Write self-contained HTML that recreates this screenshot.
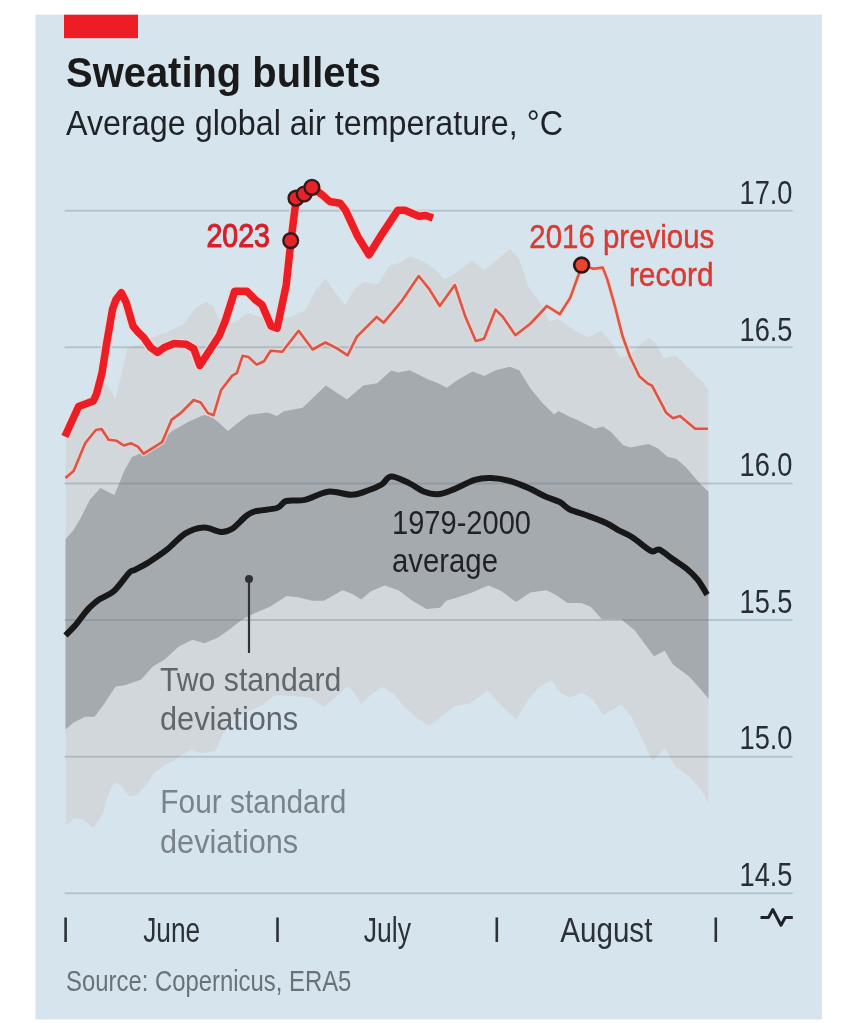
<!DOCTYPE html>
<html><head><meta charset="utf-8">
<style>
html,body{margin:0;padding:0;background:#fff;}
body{width:858px;height:1023px;overflow:hidden;position:relative;font-family:"Liberation Sans",sans-serif;}
svg{position:absolute;left:0;top:0;filter:blur(0.45px);}
</style></head><body>
<svg width="858" height="1023" viewBox="0 0 858 1023" font-family="Liberation Sans, sans-serif">
<rect x="35.5" y="14.7" width="786.5" height="1004.8" fill="#d6e5ed"/>
<rect x="64" y="14.7" width="74" height="23.5" fill="#ec1d24"/>
<polygon points="65.5,433.0 78.6,404.0 93.3,398.0 100.0,387.0 106.0,383.0 115.5,399.0 126.4,353.0 127.5,347.5 140.0,345.0 150.0,338.0 167.0,332.0 183.2,324.5 195.3,307.9 205.9,301.8 213.5,306.4 218.0,318.5 226.0,322.0 234.7,323.0 246.8,312.4 255.9,315.5 271.0,320.0 291.6,317.0 305.6,309.9 315.0,291.2 325.4,278.4 335.9,293.5 345.2,305.2 354.6,288.9 363.9,281.9 377.9,284.2 389.5,265.6 398.8,263.2 410.5,256.2 424.5,262.1 436.1,270.2 444.3,279.3 453.6,274.6 472.3,260.6 484.0,270.0 493.3,263.0 509.6,249.0 518.9,258.3 528.2,286.2 539.9,302.6 549.2,321.2 558.5,318.9 574.9,330.5 588.8,337.5 601.0,330.4 613.0,345.0 620.5,358.0 629.8,354.5 648.5,337.7 656.0,343.3 663.4,358.2 674.6,355.4 681.2,360.0 687.7,367.5 692.9,371.7 697.0,376.9 702.2,381.0 708.5,390.3 708.5,802.7 700.4,789.0 689.4,776.7 675.8,767.1 664.8,747.9 652.5,761.6 632.0,717.8 621.0,704.2 614.1,709.2 603.3,715.1 593.2,699.9 588.2,696.0 581.5,692.9 569.9,697.5 560.5,692.9 551.2,680.0 539.6,687.0 527.9,699.9 516.2,719.7 500.0,704.5 488.3,690.5 469.6,703.4 455.6,705.7 441.7,716.2 430.0,725.5 426.5,724.3 417.2,718.5 403.2,705.7 393.8,694.0 382.2,687.0 370.5,695.2 361.2,704.5 354.2,692.9 347.2,685.9 337.9,695.2 323.9,706.9 310.0,697.5 290.0,696.0 275.0,695.2 263.3,704.5 255.0,708.6 234.5,717.9 222.8,734.2 215.8,750.5 205.0,752.8 199.5,752.9 191.9,748.9 182.1,754.8 174.3,760.6 164.5,765.5 154.7,772.4 146.9,784.1 137.1,794.9 129.3,796.8 121.5,786.0 114.7,782.1 107.8,795.8 102.0,815.4 93.1,828.1 82.4,819.3 74.6,818.3 65.5,825.2" fill="#d2d7dc"/>
<polygon points="65.5,539.3 73.6,530.0 80.6,518.3 90.0,499.6 100.5,488.0 114.4,495.0 125.0,469.3 132.0,457.0 153.0,447.8 171.5,431.5 188.0,422.0 204.0,415.0 209.3,416.0 216.3,420.6 228.0,431.1 241.5,420.0 249.0,414.8 267.6,412.4 276.9,416.0 283.9,411.3 302.6,407.8 325.9,385.6 346.9,399.6 363.2,385.6 377.2,383.3 391.1,370.5 398.0,372.6 409.6,370.3 428.3,379.6 437.6,383.1 446.9,387.8 458.3,379.5 472.6,371.5 484.2,376.1 495.9,370.3 509.9,366.8 519.2,370.3 530.8,389.0 542.5,403.0 554.1,414.6 558.8,411.0 570.0,417.0 576.3,419.4 595.0,428.8 603.1,426.4 611.3,432.3 623.0,445.0 630.0,447.4 648.6,444.0 658.0,448.6 667.2,456.7 676.5,459.0 685.9,467.2 699.9,483.5 708.5,491.7 708.5,698.7 700.4,689.1 689.4,676.8 673.0,664.5 664.8,650.8 653.9,656.3 634.7,630.3 621.0,619.3 601.9,619.3 591.0,607.0 581.5,603.1 567.5,603.1 555.9,595.0 546.6,590.3 530.2,592.6 516.2,602.0 500.0,590.3 488.3,585.6 472.0,592.6 458.0,597.3 446.3,600.8 440.0,607.8 426.5,609.0 412.5,600.8 398.5,590.3 384.5,585.6 370.5,591.5 361.2,599.6 351.9,593.8 342.6,590.3 323.9,600.8 312.3,600.8 298.3,597.3 286.6,596.1 270.3,606.6 254.0,613.6 241.5,620.0 229.8,629.3 218.2,637.5 204.2,643.3 192.5,639.8 178.5,646.8 164.6,659.6 152.9,666.6 141.2,679.4 124.9,685.3 115.6,686.4 104.0,703.9 94.6,716.7 85.3,716.7 73.6,722.6 65.5,729.6" fill="#a5aaaf"/>
<g stroke="#5f7886" stroke-opacity="0.3" stroke-width="2" fill="none">
<line x1="64.6" y1="210.8" x2="792.6" y2="210.8"/>
<line x1="64.6" y1="347.3" x2="792.6" y2="347.3"/>
<line x1="64.6" y1="483.6" x2="792.6" y2="483.6"/>
<line x1="64.6" y1="620.1" x2="792.6" y2="620.1"/>
<line x1="64.6" y1="756.7" x2="792.6" y2="756.7"/>
<line x1="64.6" y1="893.3" x2="792.6" y2="893.3"/>
</g>
<path d="M65.5,635.5 C67.2,633.7 73.0,628.0 76.0,624.5 C79.0,621.0 81.2,617.5 83.4,614.8 C85.6,612.0 86.6,610.5 89.2,608.0 C91.8,605.5 94.9,602.3 99.0,599.5 C103.1,596.7 108.6,595.8 113.7,591.3 C118.8,586.8 125.9,576.1 129.4,572.5 C133.0,568.9 131.9,571.4 135.0,569.8 C138.1,568.1 142.9,566.0 148.2,562.6 C153.5,559.2 160.7,554.6 166.9,549.7 C173.1,544.8 179.3,537.1 185.5,533.4 C191.7,529.7 198.3,527.8 204.2,527.6 C210.1,527.4 216.3,531.8 221.0,532.0 C225.7,532.2 228.0,531.5 232.2,528.8 C236.4,526.1 242.3,518.9 246.1,516.0 C249.9,513.1 249.9,512.6 255.0,511.3 C260.1,510.0 271.7,509.7 276.9,508.0 C282.1,506.3 281.5,502.4 286.2,501.0 C290.9,499.6 297.9,501.4 304.9,499.9 C311.9,498.3 320.4,492.6 328.2,491.7 C336.0,490.8 344.9,494.9 351.5,494.7 C358.1,494.5 362.8,492.2 367.8,490.5 C372.8,488.8 377.8,486.8 381.7,484.5 C385.6,482.2 386.5,476.8 391.1,476.6 C395.8,476.4 404.2,480.9 409.6,483.4 C415.0,485.9 418.9,489.7 423.6,491.5 C428.3,493.3 432.9,494.5 437.6,494.3 C442.3,494.1 445.4,492.7 451.6,490.3 C457.8,487.9 468.3,481.9 474.9,479.9 C481.5,477.8 485.4,477.8 491.2,478.0 C497.0,478.2 503.7,479.3 509.9,481.0 C516.1,482.7 522.7,485.5 528.5,488.0 C534.3,490.5 539.5,493.8 544.8,496.2 C550.0,498.6 555.9,500.0 560.0,502.2 C564.1,504.4 565.0,507.1 569.3,509.2 C573.6,511.3 579.4,512.7 585.6,515.0 C591.8,517.3 601.2,520.7 606.6,523.2 C612.0,525.7 614.0,527.9 618.3,530.2 C622.6,532.5 626.8,533.7 632.3,537.2 C637.8,540.7 646.6,548.9 651.1,551.0 C655.6,553.1 655.6,548.2 659.3,549.6 C662.9,551.0 668.4,556.0 673.0,559.2 C677.6,562.4 682.6,565.3 686.7,568.7 C690.8,572.1 694.2,575.4 697.6,579.7 C701.0,584.0 705.6,592.2 707.2,594.7" fill="none" stroke="#181818" stroke-width="6" stroke-linejoin="round" stroke-linecap="butt"/>
<polyline points="65.5,478.0 73.6,471.0 85.3,443.0 95.8,430.0 101.6,429.0 108.6,439.7 116.8,440.8 123.8,445.5 130.8,443.2 137.8,446.7 143.6,453.7 152.9,447.8 162.2,442.0 171.5,419.9 180.9,412.9 193.7,400.0 200.7,402.4 207.7,412.9 213.5,415.2 221.0,390.3 232.2,375.6 236.8,373.2 242.6,355.8 248.5,357.0 256.7,364.6 264.0,361.2 270.6,350.7 282.3,351.8 298.6,330.8 312.6,349.5 325.4,342.5 337.0,348.3 347.6,355.3 356.9,336.7 376.7,316.9 383.7,322.7 401.2,301.7 418.7,276.0 429.1,288.9 439.7,306.0 454.8,285.0 465.3,316.6 475.8,341.0 484.0,338.7 495.6,309.6 502.6,316.6 515.4,335.2 530.6,323.5 546.9,306.0 559.7,314.2 570.2,297.9 582.0,265.3 593.5,268.8 602.8,267.6 607.5,279.9 614.9,306.0 622.4,335.8 629.8,356.3 639.3,376.3 647.4,383.3 652.0,385.6 666.0,412.4 673.0,418.3 680.0,416.0 695.2,428.8 708.0,428.8" fill="none" stroke="#f3d2cc" stroke-width="5.5" stroke-linejoin="round" opacity="0.7"/>
<polyline points="65.5,478.0 73.6,471.0 85.3,443.0 95.8,430.0 101.6,429.0 108.6,439.7 116.8,440.8 123.8,445.5 130.8,443.2 137.8,446.7 143.6,453.7 152.9,447.8 162.2,442.0 171.5,419.9 180.9,412.9 193.7,400.0 200.7,402.4 207.7,412.9 213.5,415.2 221.0,390.3 232.2,375.6 236.8,373.2 242.6,355.8 248.5,357.0 256.7,364.6 264.0,361.2 270.6,350.7 282.3,351.8 298.6,330.8 312.6,349.5 325.4,342.5 337.0,348.3 347.6,355.3 356.9,336.7 376.7,316.9 383.7,322.7 401.2,301.7 418.7,276.0 429.1,288.9 439.7,306.0 454.8,285.0 465.3,316.6 475.8,341.0 484.0,338.7 495.6,309.6 502.6,316.6 515.4,335.2 530.6,323.5 546.9,306.0 559.7,314.2 570.2,297.9 582.0,265.3 593.5,268.8 602.8,267.6 607.5,279.9 614.9,306.0 622.4,335.8 629.8,356.3 639.3,376.3 647.4,383.3 652.0,385.6 666.0,412.4 673.0,418.3 680.0,416.0 695.2,428.8 708.0,428.8" fill="none" stroke="#da5646" stroke-width="2.6" stroke-linejoin="round"/>
<circle cx="581.6" cy="265.1" r="7.4" fill="#e8452f" stroke="#2e1614" stroke-width="2.7"/>
<polyline points="64.9,436.5 78.6,406.5 93.3,401.0 96.5,394.0 102.0,373.0 106.6,343.6 112.5,309.3 116.0,299.6 121.3,292.7 126.2,302.5 133.0,326.0 138.0,332.0 143.8,337.7 150.6,347.5 157.5,352.4 164.3,347.5 174.1,343.5 186.2,344.2 193.8,348.8 199.8,365.5 219.5,335.2 225.6,320.0 234.7,291.2 246.8,291.2 255.9,300.3 262.0,304.8 271.0,326.0 277.1,328.3 286.2,285.2 291.0,240.4 295.0,208.5 296.7,197.5 304.0,193.3 311.6,186.7 322.7,195.3 329.7,201.5 340.2,203.2 345.5,210.2 357.7,236.4 369.0,254.8 380.4,236.4 397.9,210.2 404.9,210.2 418.9,216.3 425.9,215.5 432.9,218.0" fill="none" stroke="#f7d4d2" stroke-width="10.5" stroke-linejoin="round" opacity="0.75"/>
<polyline points="64.9,436.5 78.6,406.5 93.3,401.0 96.5,394.0 102.0,373.0 106.6,343.6 112.5,309.3 116.0,299.6 121.3,292.7 126.2,302.5 133.0,326.0 138.0,332.0 143.8,337.7 150.6,347.5 157.5,352.4 164.3,347.5 174.1,343.5 186.2,344.2 193.8,348.8 199.8,365.5 219.5,335.2 225.6,320.0 234.7,291.2 246.8,291.2 255.9,300.3 262.0,304.8 271.0,326.0 277.1,328.3 286.2,285.2 291.0,240.4 295.0,208.5 296.7,197.5 304.0,193.3 311.6,186.7 322.7,195.3 329.7,201.5 340.2,203.2 345.5,210.2 357.7,236.4 369.0,254.8 380.4,236.4 397.9,210.2 404.9,210.2 418.9,216.3 425.9,215.5 432.9,218.0" fill="none" stroke="#ec1d24" stroke-width="7.5" stroke-linejoin="round"/>
<g fill="#e5242a" stroke="#36191a" stroke-width="2.4">
<circle cx="290.7" cy="240.6" r="7.4"/>
<circle cx="296" cy="198.2" r="7.4"/>
<circle cx="304.2" cy="194" r="7.4"/>
<circle cx="311.9" cy="187.3" r="7.4"/>
</g>
<line x1="249" y1="579" x2="249" y2="653" stroke="#2f3338" stroke-width="2.2"/>
<circle cx="249" cy="579" r="4" fill="#2f3338"/>
<!-- texts -->
<text x="66" y="87" font-size="42" font-weight="bold" fill="#1a1a1a" textLength="315" lengthAdjust="spacingAndGlyphs">Sweating bullets</text>
<text x="66" y="135.4" font-size="34.6" fill="#1f2226" textLength="497" lengthAdjust="spacingAndGlyphs">Average global air temperature, °C</text>
<g font-size="34" fill="#282d33" text-anchor="end">
<text x="792.5" y="204" textLength="53" lengthAdjust="spacingAndGlyphs">17.0</text>
<text x="792.5" y="340.5" textLength="53" lengthAdjust="spacingAndGlyphs">16.5</text>
<text x="792.5" y="476.2" textLength="53" lengthAdjust="spacingAndGlyphs">16.0</text>
<text x="792.5" y="613.3" textLength="53" lengthAdjust="spacingAndGlyphs">15.5</text>
<text x="792.5" y="749.3" textLength="53" lengthAdjust="spacingAndGlyphs">15.0</text>
<text x="792.5" y="886" textLength="53" lengthAdjust="spacingAndGlyphs">14.5</text>
</g>
<text x="206.5" y="247.4" font-size="33.7" fill="#d6202a" stroke="#d6202a" stroke-width="1.1" textLength="63.5" lengthAdjust="spacingAndGlyphs">2023</text>
<text x="529.3" y="247.6" font-size="33.9" fill="#d83b34" stroke="#d83b34" stroke-width="0.5" textLength="185" lengthAdjust="spacingAndGlyphs">2016 previous</text>
<text x="628.9" y="286.1" font-size="33.9" fill="#d83b34" stroke="#d83b34" stroke-width="0.5" textLength="84.7" lengthAdjust="spacingAndGlyphs">record</text>
<text x="392" y="533.6" font-size="32.5" fill="#1f2328" textLength="139" lengthAdjust="spacingAndGlyphs">1979-2000</text>
<text x="392" y="571.8" font-size="32.5" fill="#1f2328" textLength="106" lengthAdjust="spacingAndGlyphs">average</text>
<text x="160" y="691" font-size="33.7" fill="#5f666d" textLength="181.4" lengthAdjust="spacingAndGlyphs">Two standard</text>
<text x="160" y="729.6" font-size="33.7" fill="#5f666d" textLength="138.2" lengthAdjust="spacingAndGlyphs">deviations</text>
<text x="160.3" y="813" font-size="33.7" fill="#7b838a" textLength="186" lengthAdjust="spacingAndGlyphs">Four standard</text>
<text x="160" y="853" font-size="33.7" fill="#7b838a" textLength="138.2" lengthAdjust="spacingAndGlyphs">deviations</text>
<g stroke="#2c3136" stroke-width="2.6">
<line x1="65.6" y1="917.5" x2="65.6" y2="942"/>
<line x1="277.5" y1="917.5" x2="277.5" y2="942"/>
<line x1="496.8" y1="917.5" x2="496.8" y2="942"/>
<line x1="715.8" y1="917.5" x2="715.8" y2="942"/>
</g>
<g font-size="35" fill="#2c3136">
<text x="143.2" y="942" textLength="57" lengthAdjust="spacingAndGlyphs">June</text>
<text x="363.7" y="942" textLength="47.3" lengthAdjust="spacingAndGlyphs">July</text>
<text x="560.2" y="942" textLength="92.2" lengthAdjust="spacingAndGlyphs">August</text>
</g>
<text x="66" y="991" font-size="29" fill="#6a7177" textLength="285.4" lengthAdjust="spacingAndGlyphs">Source: Copernicus, ERA5</text>
<polyline points="760.5,917.4 768.6,917.4 772.8,909.5 781,925.2 785.2,917.6 792.8,917.4" fill="none" stroke="#1f2226" stroke-width="3" stroke-linejoin="round"/>
</svg>
</body></html>
